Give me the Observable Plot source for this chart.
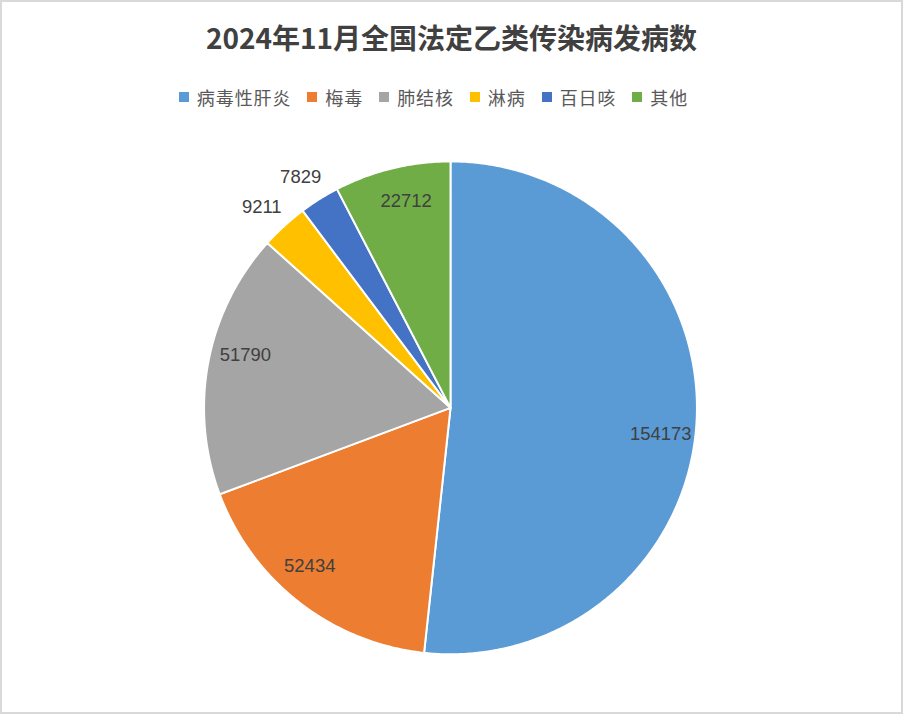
<!DOCTYPE html>
<html>
<head>
<meta charset="utf-8">
<script src="https://cdn.jsdelivr.net/npm/d3@7"></script>
<script src="https://cdn.jsdelivr.net/npm/@observablehq/plot@0.6"></script>
<style>
  html, body { margin: 0; padding: 0; background: #fff; }
  #chart {
    position: relative; width: 903px; height: 714px; box-sizing: border-box;
    border: 2px solid #d9d9d9; background: #fff; overflow: hidden;
    font-family: "Liberation Sans", "Noto Sans CJK SC", sans-serif;
  }
  #title {
    position: absolute; left: 0; right: 0; top: 15px; text-align: center;
    font-family: "Noto Sans CJK SC", sans-serif; font-weight: bold;
    font-size: 28px; color: #404040; line-height: 40px;
  }
  #legend {
    position: absolute; left: 0; right: 36px; top: 82px; display: flex;
    justify-content: center; align-items: center;
    font-family: "Noto Sans CJK SC", sans-serif; font-size: 18px; color: #595959;
    letter-spacing: 0.9px;
  }
  .item { display: flex; align-items: center; margin: 0 8px; }
  .sw { width: 10px; height: 10px; margin-right: 8px; }
  #plot { position: absolute; left: -2px; top: 118px; }
  #plot svg { display: block; }
</style>
</head>
<body>
<div id="chart">
  <div id="title"></div>
  <div id="legend"></div>
  <div id="plot"></div>
</div>
<script>
const title = "2024年11月全国法定乙类传染病发病数";
const categories = ["病毒性肝炎", "梅毒", "肺结核", "淋病", "百日咳", "其他"];
const values = [154173, 52434, 51790, 9211, 7829, 22712];
const colors = ["#5B9BD5", "#ED7D31", "#A5A5A5", "#FFC000", "#4472C4", "#70AD47"];

document.getElementById("title").textContent = title;
const legend = document.getElementById("legend");
categories.forEach((c, i) => {
  const it = document.createElement("div");
  it.className = "item";
  it.innerHTML = `<div class="sw" style="background:${colors[i]}"></div><span>${c}</span>`;
  legend.appendChild(it);
});

// layout (SVG sits at absolute top 120, left 0)
const W = 903, H = 594;
const cx = 451, cy = 408 - 120, R = 247;

const pie = d3.pie().sort(null).value(d => d.value)
  .startAngle(0).endAngle(2 * Math.PI);
const data = categories.map((name, i) => ({name, value: values[i]}));
const arcs = pie(data);
const total = d3.sum(values);

// polygons for slices
const pts = [];
arcs.forEach(a => {
  const n = Math.max(2, Math.ceil((a.endAngle - a.startAngle) / (Math.PI / 360)));
  pts.push({name: a.data.name, x: 0, y: 0});
  for (let k = 0; k <= n; k++) {
    const t = a.startAngle + (a.endAngle - a.startAngle) * k / n;
    pts.push({name: a.data.name, x: Math.sin(t), y: Math.cos(t)});
  }
});

const deg = Math.PI / 180;
const labels = arcs.map(a => {
  const span = a.endAngle - a.startAngle;
  const inside = a.data.value / total > 0.05;
  const m = (a.startAngle + a.endAngle) / 2 + (inside ? Math.min(4 * deg, span * 0.06) : -0.8 * deg);
  const r = inside ? 0.86 : 1.118;
  return {name: a.data.name, value: a.data.value, x: r * Math.sin(m), y: r * Math.cos(m)};
});

const plot = Plot.plot({
  width: W, height: H, margin: 0,
  x: {domain: [-cx / R, (W - cx) / R], range: [0, W], axis: null},
  y: {domain: [-(H - cy) / R, cy / R], range: [H, 0], axis: null},
  color: {domain: categories, range: colors},
  style: {background: "transparent", fontFamily: "Liberation Sans, sans-serif"},
  marks: [
    Plot.line(pts, {x: "x", y: "y", z: "name", fill: "name", stroke: "#fff",
      strokeWidth: 2, curve: "linear-closed", strokeLinejoin: "round"}),
    Plot.text(labels, {x: "x", y: "y", text: d => String(d.value), fontSize: 18.5,
      fill: "#404040", textAnchor: "middle", lineAnchor: "middle"})
  ]
});
document.getElementById("plot").appendChild(plot);
</script>
</body>
</html>
